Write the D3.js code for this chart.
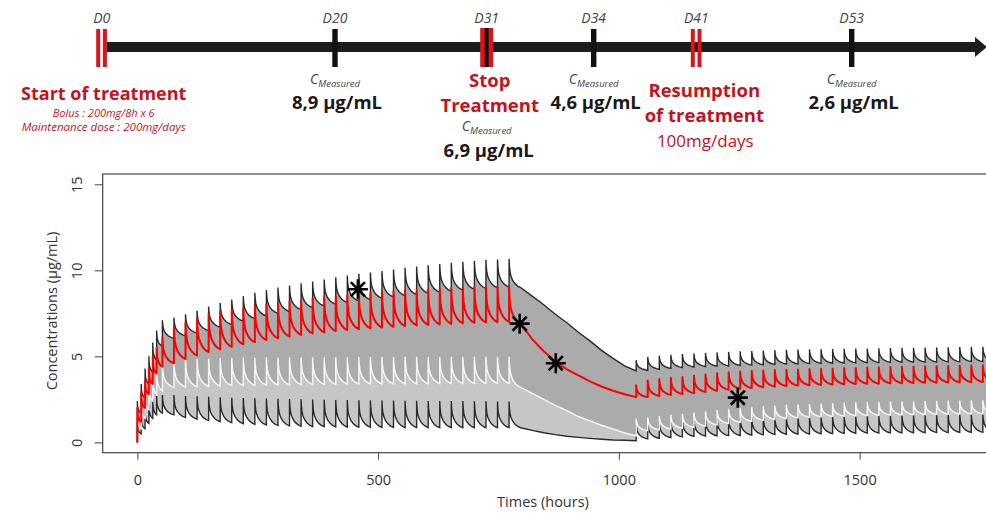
<!DOCTYPE html>
<html>
<head>
<meta charset="utf-8">
<script src="https://cdn.jsdelivr.net/npm/d3@7"></script>
<style>
  html, body { margin: 0; padding: 0; background: #fff; }
  svg { display: block; font-family: "Open Sans", "Noto Sans", sans-serif; }
</style>
</head>
<body>
<svg id="chart" width="986" height="516"></svg>
<script>
// ---- timeline data ----
const timelineDays = [0, 20, 31, 34, 41, 53];
const timelineKinds = ["start", "measure", "stop", "measure", "resume", "measure"];
const measuredDays = [20, 31, 34, 53];
const measuredValues = [8.9, 6.9, 4.6, 2.6];

// ---- simulated profiles ----
// dose times in hours: 6 loading doses, daily doses, stop, then daily doses again
const doseTimes = [0, 8, 16, 24, 32, 40,
  52, 76, 100, 124, 148, 172, 196, 220, 244, 268, 292, 316, 340, 364, 388, 412,
  436, 460, 484, 508, 532, 556, 580, 604, 628, 652, 676, 700, 724, 748, 772,
  1036, 1060, 1084, 1108, 1132, 1156, 1180, 1204, 1228, 1252, 1276, 1300, 1324,
  1348, 1372, 1396, 1420, 1444, 1468, 1492, 1516, 1540, 1564, 1588, 1612, 1636,
  1660, 1684, 1708, 1732, 1756];
const washoutTimes = [820, 844, 868, 892, 916, 940, 964, 988, 1012, 1036];

// shape of one dosing interval: [fraction of interval, fraction of the fall done]
const cycleShape = [[0, 0], [0.03, 0.25], [0.08, 0.45], [0.16, 0.6], [0.3, 0.74],
  [0.5, 0.86], [0.75, 0.95], [1, 1]];

// upper bound (black)
const upperPeaks = [2.4, 3.4, 4.3, 5.0, 5.8, 6.5,
  7.1, 7.25, 7.45, 7.65, 7.9, 8.1, 8.3, 8.5, 8.7, 8.85, 9.0, 9.12, 9.25, 9.35, 9.47,
  9.6, 9.7, 9.8, 9.88, 9.96, 10.05, 10.15, 10.22, 10.3, 10.37, 10.44, 10.5, 10.55, 10.6, 10.63, 10.67,
  4.78, 4.97, 5.04, 5.09, 5.13, 5.16, 5.2, 5.23, 5.26, 5.29, 5.31, 5.33, 5.36, 5.38, 5.4,
  5.41, 5.42, 5.43, 5.44, 5.45, 5.46, 5.47, 5.48, 5.49, 5.5, 5.51, 5.52, 5.53, 5.54, 5.55, 5.56];
const upperTroughs = [1.7, 2.6, 3.4, 4.1, 4.8, 5.6,
  6.05, 6.2, 6.35, 6.5, 6.7, 6.85, 7.05, 7.2, 7.35, 7.5, 7.6, 7.72, 7.83, 7.93, 8.03,
  8.13, 8.22, 8.3, 8.38, 8.45, 8.53, 8.6, 8.67, 8.73, 8.79, 8.85, 8.9, 8.95, 8.99, 9.03, 9.0,
  4.19, 4.25, 4.3, 4.35, 4.38, 4.41, 4.43, 4.45, 4.47, 4.49, 4.51, 4.53, 4.55, 4.56, 4.58,
  4.59, 4.6, 4.61, 4.62, 4.63, 4.64, 4.65, 4.66, 4.66, 4.67, 4.67, 4.68, 4.68, 4.69, 4.69, 4.7];
const upperWashout = [8.5, 8.0, 7.45, 6.95, 6.4, 5.9, 5.35, 4.88, 4.45, 4.15];

// individual prediction (red)
const redPeaks = [2.0, 2.9, 3.6, 4.3, 5.0, 5.5,
  6.1, 6.7, 6.95, 7.25, 7.45, 7.6, 7.7, 7.78, 7.9, 8.0, 8.1, 8.2, 8.28, 8.36, 8.44,
  8.5, 8.56, 8.62, 8.68, 8.73, 8.78, 8.82, 8.86, 8.9, 8.93, 8.96, 8.99, 9.02, 9.04, 9.06, 9.08,
  3.32, 3.6, 3.68, 3.75, 3.8, 3.88, 3.95, 4.02, 4.08, 4.12, 4.15, 4.18, 4.2, 4.22, 4.24,
  4.26, 4.28, 4.3, 4.32, 4.33, 4.35, 4.36, 4.38, 4.39, 4.4, 4.42, 4.43, 4.44, 4.46, 4.47, 4.49];
const redTroughs = [1.2, 2.0, 2.8, 3.4, 4.0, 4.4,
  4.6, 4.85, 5.05, 5.25, 5.4, 5.55, 5.7, 5.82, 5.95, 6.05, 6.15, 6.25, 6.33, 6.4, 6.47,
  6.53, 6.58, 6.63, 6.68, 6.72, 6.76, 6.8, 6.83, 6.86, 6.89, 6.92, 6.95, 6.97, 6.99, 7.01, 6.9,
  2.63, 2.7, 2.76, 2.81, 2.86, 2.93, 3.0, 3.06, 3.12, 3.16, 3.2, 3.24, 3.27, 3.3, 3.32,
  3.34, 3.36, 3.38, 3.39, 3.4, 3.41, 3.43, 3.44, 3.45, 3.46, 3.47, 3.48, 3.49, 3.5, 3.51, 3.52];
const redWashout = [6.0, 5.3, 4.7, 4.25, 3.9, 3.55, 3.25, 3.0, 2.8, 2.63];

// median (white)
const whitePeaks = [1.6, 2.3, 2.9, 3.4, 3.9, 4.2,
  4.5, 4.7, 4.8, 4.85, 4.88, 4.9, 4.9, 4.92, 4.92, 4.93, 4.93, 4.94, 4.94, 4.95, 4.95,
  4.95, 4.95, 4.96, 4.96, 4.96, 4.96, 4.97, 4.97, 4.97, 4.97, 4.97, 4.98, 4.98, 4.98, 4.98, 4.98,
  1.37, 1.45, 1.53, 1.6, 1.66, 1.73, 1.8, 1.88, 1.95, 2.0, 2.05, 2.1, 2.14, 2.18, 2.2,
  2.23, 2.26, 2.28, 2.31, 2.33, 2.34, 2.36, 2.37, 2.38, 2.39, 2.4, 2.41, 2.42, 2.43, 2.44, 2.45];
const whiteTroughs = [0.8, 1.4, 1.9, 2.4, 2.8, 3.0,
  3.2, 3.22, 3.24, 3.26, 3.28, 3.3, 3.31, 3.32, 3.33, 3.34, 3.35, 3.36, 3.37, 3.38, 3.38,
  3.39, 3.39, 3.4, 3.4, 3.4, 3.41, 3.41, 3.41, 3.42, 3.42, 3.42, 3.42, 3.43, 3.43, 3.43, 3.2,
  0.68, 0.73, 0.78, 0.83, 0.88, 0.95, 1.02, 1.1, 1.17, 1.23, 1.29, 1.34, 1.39, 1.43, 1.46,
  1.49, 1.51, 1.53, 1.55, 1.56, 1.57, 1.59, 1.6, 1.61, 1.62, 1.63, 1.64, 1.65, 1.66, 1.66, 1.67];
const whiteWashout = [2.85, 2.5, 2.15, 1.85, 1.5, 1.25, 1.0, 0.78, 0.55, 0.38];

// lower bound (black)
const lowerPeaks = [1.1, 1.5, 1.9, 2.2, 2.5, 2.7,
  2.75, 2.75, 2.7, 2.68, 2.65, 2.62, 2.6, 2.58, 2.56, 2.55, 2.53, 2.52, 2.5, 2.49, 2.48,
  2.47, 2.46, 2.45, 2.44, 2.44, 2.43, 2.42, 2.42, 2.41, 2.4, 2.4, 2.4, 2.39, 2.39, 2.38, 2.38,
  1.07, 1.13, 1.19, 1.25, 1.31, 1.34, 1.37, 1.4, 1.43, 1.44, 1.45, 1.47, 1.48, 1.49, 1.5,
  1.51, 1.52, 1.53, 1.54, 1.55, 1.56, 1.57, 1.58, 1.59, 1.6, 1.61, 1.62, 1.63, 1.64, 1.65, 1.66];
const lowerTroughs = [0.5, 0.8, 1.1, 1.4, 1.6, 1.7,
  1.6, 1.45, 1.35, 1.27, 1.2, 1.14, 1.09, 1.05, 1.01, 0.98, 0.96, 0.94, 0.92, 0.91, 0.9,
  0.89, 0.88, 0.88, 0.87, 0.87, 0.86, 0.86, 0.86, 0.85, 0.85, 0.85, 0.85, 0.85, 0.85, 0.85, 0.85,
  0.2, 0.24, 0.28, 0.32, 0.35, 0.37, 0.38, 0.39, 0.4, 0.42, 0.44, 0.46, 0.47, 0.48, 0.49,
  0.5, 0.51, 0.52, 0.53, 0.54, 0.54, 0.55, 0.55, 0.56, 0.56, 0.57, 0.57, 0.58, 0.58, 0.58, 0.59];
const lowerWashout = [0.7, 0.56, 0.45, 0.36, 0.29, 0.23, 0.18, 0.14, 0.12, 0.1];

// measured concentrations
const obsTimes = [458, 794, 869, 1247];
const obsValues = [8.9, 6.9, 4.6, 2.6];

const xTicks = [0, 500, 1000, 1500];
const yTicks = [0, 5, 10, 15];

// ---------------------------------------------------------------
const svg = d3.select("#chart");
const RED = "#c5121f";
const BAR_RED = "#d9141c";

// build [time, value] points for one profile
function buildProfile(peaks, troughs, washout) {
  const pts = [[0, 0]];
  doseTimes.forEach((t, i) => {
    const next = doseTimes[i + 1];
    const gap = next === undefined ? Infinity : next - t;
    const end = gap <= 24 ? next : t + 24;
    pts.push([t, peaks[i]]);
    cycleShape.forEach(([f, d]) => {
      if (f > 0) pts.push([t + f * (end - t), peaks[i] - d * (peaks[i] - troughs[i])]);
    });
    if (next !== undefined && gap > 24) {
      washoutTimes.forEach((wt, j) => pts.push([wt, washout[j]]));
    }
  });
  return pts;
}

const upper = buildProfile(upperPeaks, upperTroughs, upperWashout);
const red = buildProfile(redPeaks, redTroughs, redWashout);
const white = buildProfile(whitePeaks, whiteTroughs, whiteWashout);
const lower = buildProfile(lowerPeaks, lowerTroughs, lowerWashout);

// ---- chart scales (R style 4% padding) ----
const x = d3.scaleLinear().domain([-72, 1872]).range([102.7, 1038.7]);
const y = d3.scaleLinear().domain([-0.6, 15.6]).range([452.7, 174]);

const plot = svg.append("g");
svg.append("clipPath").attr("id", "clip")
  .append("rect")
  .attr("x", x(-72)).attr("y", y(15.6))
  .attr("width", x(1872) - x(-72)).attr("height", y(-0.6) - y(15.6));

const inner = plot.append("g").attr("clip-path", "url(#clip)");

const band = (hi, lo) => d3.area()
  .x(d => x(d[0]))
  .y0((d, i) => y(lo[i][1]))
  .y1((d, i) => y(hi[i][1]));

inner.append("path")
  .attr("d", band(upper, white)(upper))
  .attr("fill", "#ababab");
inner.append("path")
  .attr("d", band(white, lower)(white))
  .attr("fill", "#c6c6c6");

const line = d3.line().x(d => x(d[0])).y(d => y(d[1]));

inner.append("path").datum(lower).attr("d", line)
  .attr("fill", "none").attr("stroke", "#2b2b2b").attr("stroke-width", 1.4);
inner.append("path").datum(white).attr("d", line)
  .attr("fill", "none").attr("stroke", "#f4f4f4").attr("stroke-width", 1.5);
inner.append("path").datum(upper).attr("d", line)
  .attr("fill", "none").attr("stroke", "#2b2b2b").attr("stroke-width", 1.4);
inner.append("path").datum(red).attr("d", line)
  .attr("fill", "none").attr("stroke", "#ff0000").attr("stroke-width", 2)
  .attr("stroke-linejoin", "round");

// asterisks (R pch 8)
const star = (r) => {
  const p = d3.path();
  for (let k = 0; k < 4; k++) {
    const a = k * Math.PI / 4;
    p.moveTo(-r * Math.cos(a), -r * Math.sin(a));
    p.lineTo(r * Math.cos(a), r * Math.sin(a));
  }
  return p.toString();
};
inner.selectAll(".obs")
  .data(obsTimes.map((t, i) => [t, obsValues[i]]))
  .join("path")
  .attr("class", "obs")
  .attr("transform", d => `translate(${x(d[0])},${y(d[1])})`)
  .attr("d", star(10))
  .attr("stroke", "#000").attr("stroke-width", 2.6).attr("fill", "none");

// box
plot.append("rect")
  .attr("x", x(-72)).attr("y", y(15.6))
  .attr("width", x(1872) - x(-72)).attr("height", y(-0.6) - y(15.6))
  .attr("fill", "none").attr("stroke", "#444").attr("stroke-width", 1.2);

// axes
const yAxis = plot.append("g")
  .attr("transform", `translate(${x(-72)},0)`)
  .call(d3.axisLeft(y).tickValues(yTicks).tickSize(8).tickFormat(d3.format("d")));
yAxis.select(".domain").remove();
yAxis.selectAll("line").attr("stroke", "#444");
yAxis.selectAll("text")
  .attr("transform", "rotate(-90)")
  .attr("x", 0).attr("y", -21).attr("dy", 0)
  .attr("text-anchor", "middle")
  .attr("fill", "#333").attr("font-size", 14.5)
  .attr("font-family", "Open Sans, sans-serif");

const xAxis = plot.append("g")
  .attr("transform", `translate(0,${y(-0.6)})`)
  .call(d3.axisBottom(x).tickValues(xTicks).tickSize(7).tickFormat(d3.format("d")));
xAxis.select(".domain").remove();
xAxis.selectAll("line").attr("stroke", "#444");
xAxis.selectAll("text")
  .attr("y", 32).attr("dy", 0)
  .attr("fill", "#333").attr("font-size", 14.5)
  .attr("font-family", "Open Sans, sans-serif");

svg.append("text")
  .attr("transform", "translate(57,311) rotate(-90)")
  .attr("text-anchor", "middle")
  .attr("font-size", 14.5).attr("fill", "#333")
  .text("Concentrations (µg/mL)");

svg.append("text")
  .attr("x", 543).attr("y", 507)
  .attr("text-anchor", "middle")
  .attr("font-size", 14.5).attr("fill", "#333")
  .text("Times (hours)");

// ---- timeline ----
const tl = d3.scaleLinear()
  .domain(timelineDays)
  .range([101.7, 335, 486.7, 593.7, 696.3, 851.7]);
const tlY = 47;
const header = svg.append("g");

header.append("rect")
  .attr("x", tl(0) + 5).attr("y", tlY - 5)
  .attr("width", 977 - tl(0) - 5).attr("height", 10)
  .attr("fill", "#1c1c1c");
header.append("path")
  .attr("d", `M975,${tlY - 10} L987,${tlY} L975,${tlY + 10} Z`)
  .attr("fill", "#1c1c1c");

timelineDays.forEach((d, i) => {
  const cx = tl(d);
  const kind = timelineKinds[i];
  if (kind === "measure") {
    header.append("rect").attr("x", cx - 2.7).attr("y", 29).attr("width", 5.4).attr("height", 38)
      .attr("fill", "#111");
  } else if (kind === "stop") {
    header.append("rect").attr("x", cx - 6.5).attr("y", 28).attr("width", 13).attr("height", 39)
      .attr("fill", BAR_RED);
    header.append("rect").attr("x", cx - 2).attr("y", 28).attr("width", 4).attr("height", 39)
      .attr("fill", "#111");
  } else {
    header.append("rect").attr("x", cx - 5.5).attr("y", 29).attr("width", 4).attr("height", 38)
      .attr("fill", BAR_RED);
    header.append("rect").attr("x", cx + 1.2).attr("y", 29).attr("width", 4).attr("height", 38)
      .attr("fill", BAR_RED);
  }
  header.append("text")
    .attr("x", cx).attr("y", 23)
    .attr("text-anchor", "middle")
    .attr("font-style", "italic").attr("font-size", 14).attr("fill", "#444")
    .text("D" + d);
});

// measured concentration labels
const fmt = v => d3.format(".1f")(v).replace(".", ",");
measuredDays.forEach((d, i) => {
  const cx = tl(d);
  const low = d === 31;
  const cy = low ? 131 : 84;
  const vy = low ? 157 : 109;
  const c = header.append("text")
    .attr("x", cx).attr("y", cy)
    .attr("text-anchor", "middle")
    .attr("font-style", "italic").attr("fill", "#444");
  c.append("tspan").attr("font-size", 14).text("C");
  c.append("tspan").attr("font-size", 9.5).attr("dy", 3).text("Measured");
  header.append("text")
    .attr("x", cx + 2).attr("y", vy)
    .attr("text-anchor", "middle")
    .attr("font-weight", 700).attr("font-size", 18.5).attr("fill", "#1a1a1a")
    .text(fmt(measuredValues[i]) + " µg/mL");
});

// treatment events
const redText = (tx, ty, txt, size, weight, italic) => header.append("text")
  .attr("x", tx).attr("y", ty)
  .attr("text-anchor", "middle")
  .attr("font-size", size).attr("font-weight", weight)
  .attr("font-style", italic ? "italic" : "normal")
  .attr("fill", RED)
  .text(txt);

redText(tl(0) + 2, 100, "Start of treatment", 18, 700, false);
redText(tl(0) + 2, 117, "Bolus : 200mg/8h x 6", 11, 400, true);
redText(tl(0) + 2, 131, "Maintenance dose : 200mg/days", 11.5, 400, true);

redText(tl(31) + 3, 87, "Stop", 18.5, 700, false);
redText(tl(31) + 3, 112, "Treatment", 18.5, 700, false);

redText(tl(41) + 8, 97, "Resumption", 18.5, 700, false);
redText(tl(41) + 8, 122, "of treatment", 18.5, 700, false);
redText(tl(41) + 9, 147, "100mg/days", 17, 400, false);
</script>
</body>
</html>
